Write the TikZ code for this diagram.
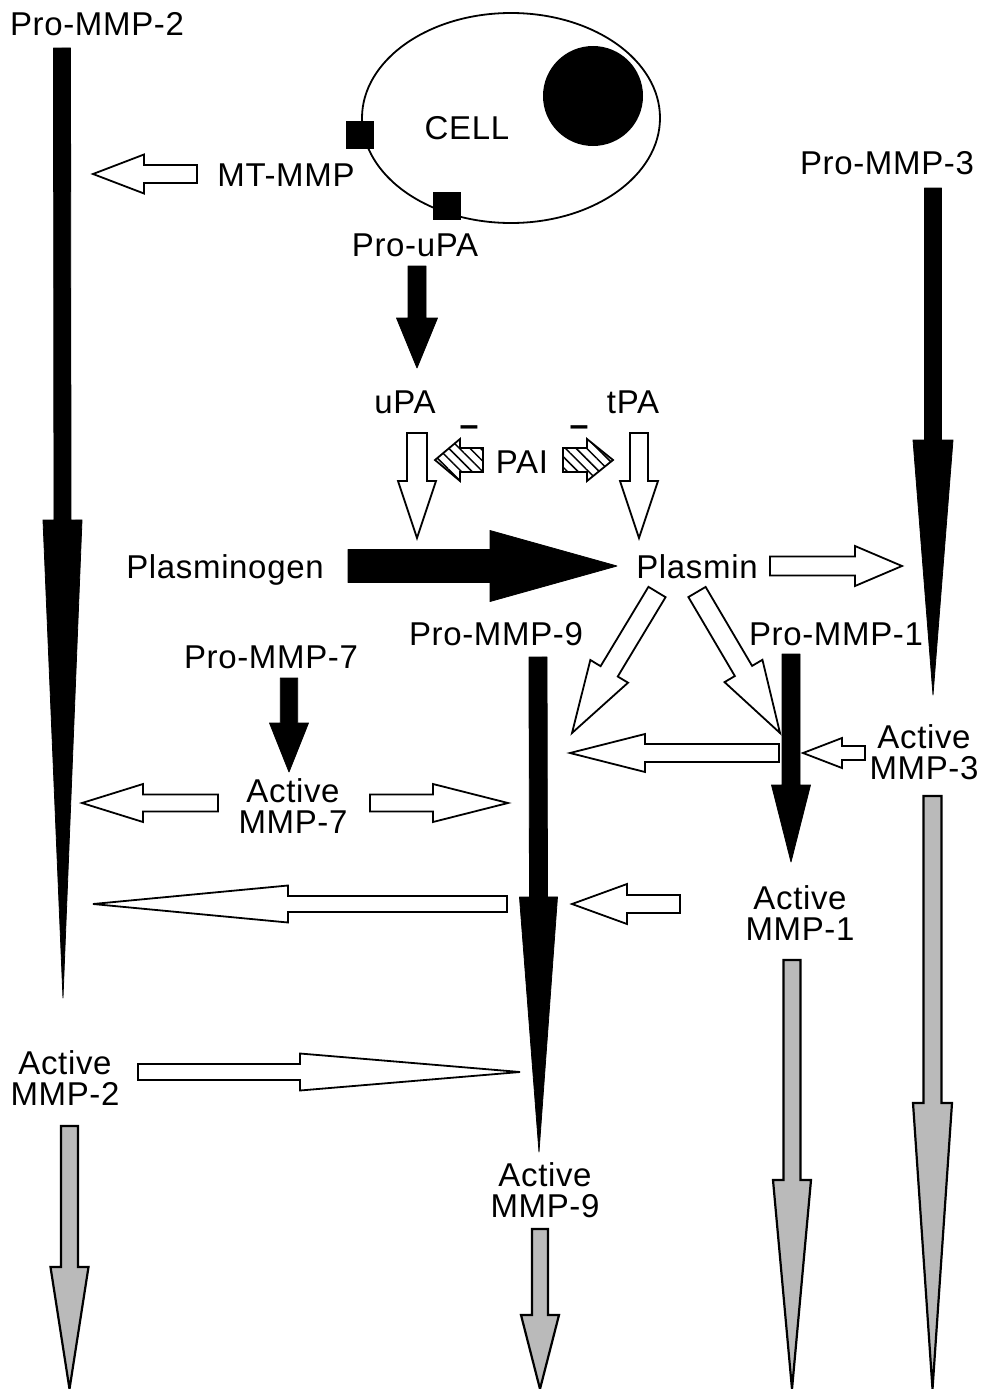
\documentclass[tikz,border=0pt]{standalone}
\usepackage{fontspec}
\setmainfont{Liberation Sans}[LetterSpace=2]
\usetikzlibrary{patterns.meta,calc}
% block arrow: #1 style, #2 tail coordinate, #3 tip coordinate, #4 shaft half width, #5 head half width, #6 head length
\newcommand\blockarrow[6]{%
  \pgfpointdiff{\pgfpointanchor{#2}{center}}{\pgfpointanchor{#3}{center}}%
  \pgfgetlastxy\bax\bay
  \pgfmathsetmacro\baang{atan2(\bay,\bax)}%
  \pgfmathsetmacro\balen{veclen(\bax,\bay)}%
  \path[#1,shift={(#2)},rotate=\baang] (0,#4) -- ({\balen-#6},#4) -- ({\balen-#6},#5) -- (\balen,0)
     -- ({\balen-#6},-#5) -- ({\balen-#6},-#4) -- (0,-#4) -- cycle;
}
\newcommand\lblfont{\fontsize{33}{31}\selectfont}
\begin{document}
\begin{tikzpicture}[x=1pt,y=-1pt,
  lbl/.style={inner sep=0pt,font=\lblfont,text height=23.5pt,text depth=0pt},
  lbltwo/.style={inner sep=0pt,font=\lblfont,align=center},
  minus/.style={inner sep=0pt,font=\fontsize{34}{34}\selectfont\bfseries},
  whitearr/.style={draw=black,fill=white,line width=1.8pt,line join=miter},
  blackarr/.style={draw=black,fill=black,line width=0.8pt,line join=round},
  grayarr/.style={draw=black,fill=black!27,line width=2.2pt,line join=miter},
  hatcharr/.style={draw=black,line width=1.8pt,line join=miter,
     pattern={Lines[angle=-45,distance=7.5pt,line width=1.5pt]}},
  membrane/.style={draw=black,fill=black,minimum size=27pt,inner sep=0pt}]
\useasboundingbox (0,0) rectangle (982,1389);

% ---- cell ----
\draw[line width=1.8pt] (511,118) ellipse [x radius=149, y radius=105];
\fill (593,96) circle [radius=50];
\node[membrane] (mtsq) at (360,135) {};
\node[membrane] (upasq) at (447,206) {};

% ---- labels ----
\node[lbl] (pro2) at (97,24) {Pro-MMP-2};
\node[lbl] (cell) at (467,128) {CELL};
\node[lbl] (mtmmp) at (286,175) {MT-MMP};
\node[lbl] (prouPA) at (415,245) {Pro-uPA};
\node[lbl] (pro3) at (887,163) {Pro-MMP-3};
\node[lbl] (uPA) at (405,402) {uPA};
\node[lbl] (tPA) at (633,402) {tPA};
\node[lbl] (PAI) at (522,462) {PAI};
\node[minus] (minA) at (469,431) {–};
\node[minus] (minB) at (579,431) {–};
\node[lbl] (plg) at (225,567) {Plasminogen};
\node[lbl] (plasmin) at (697,567) {Plasmin};
\node[lbl] (pro9) at (496,634) {Pro-MMP-9};
\node[lbl] (pro1) at (836,634) {Pro-MMP-1};
\node[lbl] (pro7) at (271,657) {Pro-MMP-7};
\node[lbltwo] (act7) at (293,806) {Active\\MMP-7};
\node[lbltwo] (act3) at (924,752) {Active\\MMP-3};
\node[lbltwo] (act1) at (800,913) {Active\\MMP-1};
\node[lbltwo] (act2) at (65,1078) {Active\\MMP-2};
\node[lbltwo] (act9) at (545,1190) {Active\\MMP-9};

% ---- arrow end points ----
\coordinate (mtT) at (197,174);   \coordinate (mtH) at (93,174);
\coordinate (puT) at (417,266);   \coordinate (puH) at (417,368);
\coordinate (uT) at (417,433);    \coordinate (uH) at (417,538);
\coordinate (tT) at (639,433);    \coordinate (tH) at (639,538);
\coordinate (paiLT) at (483,460); \coordinate (paiLH) at (435,460);
\coordinate (paiRT) at (563,460); \coordinate (paiRH) at (613,460);
\coordinate (plgT) at (348,566);  \coordinate (plgH) at (617,566);
\coordinate (plmT) at (770,566);  \coordinate (plmH) at (902,566);
\coordinate (dlT) at (657,592);   \coordinate (dlH) at (572,733);
\coordinate (drT) at (697,592);   \coordinate (drH) at (780,733);
\coordinate (hzT) at (779,753);   \coordinate (hzH) at (570,753);
\coordinate (a3T) at (865,753);   \coordinate (a3H) at (803,753);
\coordinate (p2T) at (62,48);     \coordinate (p2H) at (63,998);
\coordinate (p3T) at (933,188);   \coordinate (p3H) at (933,695);
\coordinate (p9T) at (538,657);   \coordinate (p9H) at (539,1152);
\coordinate (p1T) at (791,654);   \coordinate (p1H) at (791,862);
\coordinate (p7T) at (289,678);   \coordinate (p7H) at (289,772);
\coordinate (a7LT) at (218,803);  \coordinate (a7LH) at (82,803);
\coordinate (a7RT) at (370,803);  \coordinate (a7RH) at (508,803);
\coordinate (lgT) at (507,904);   \coordinate (lgH) at (93,904);
\coordinate (a1T) at (680,904);   \coordinate (a1H) at (572,904);
\coordinate (a2T) at (138,1072);  \coordinate (a2H) at (520,1072);
\coordinate (g2T) at (69.5,1126); \coordinate (g2H) at (69.5,1389);
\coordinate (g9T) at (540,1229);  \coordinate (g9H) at (540,1389);
\coordinate (g1T) at (792,960);   \coordinate (g1H) at (792,1389);
\coordinate (g3T) at (932.5,796); \coordinate (g3H) at (932.5,1389);

% ---- black arrows ----
\blockarrow{blackarr}{p2T}{p2H}{8.5}{19.5}{478}
\blockarrow{blackarr}{p3T}{p3H}{8.5}{20}{255}
\blockarrow{blackarr}{p9T}{p9H}{9}{19}{255}
\blockarrow{blackarr}{p1T}{p1H}{9}{19.5}{77}
\blockarrow{blackarr}{p7T}{p7H}{8.7}{19.5}{49}
\blockarrow{blackarr}{puT}{puH}{9}{20.5}{50}
\blockarrow{blackarr}{plgT}{plgH}{16.5}{35.5}{127}

% ---- white arrows ----
\blockarrow{whitearr}{mtT}{mtH}{9}{19.5}{51}
\blockarrow{whitearr}{uT}{uH}{10}{19}{57}
\blockarrow{whitearr}{tT}{tH}{9}{19}{57}
\blockarrow{whitearr}{plmT}{plmH}{9.5}{20}{47}
\blockarrow{whitearr}{dlT}{dlH}{10}{22}{72}
\blockarrow{whitearr}{drT}{drH}{10}{22}{72}
\blockarrow{whitearr}{hzT}{hzH}{9}{19}{75}
\blockarrow{whitearr}{a3T}{a3H}{7}{15}{39}
\blockarrow{whitearr}{a7LT}{a7LH}{8.5}{19}{61}
\blockarrow{whitearr}{a7RT}{a7RH}{8.5}{19}{75}
\blockarrow{whitearr}{lgT}{lgH}{8}{18.5}{195}
\blockarrow{whitearr}{a1T}{a1H}{9}{20}{55}
\blockarrow{whitearr}{a2T}{a2H}{8}{18.5}{220}

% ---- hatched PAI arrows ----
\blockarrow{hatcharr}{paiLT}{paiLH}{12}{21}{25}
\blockarrow{hatcharr}{paiRT}{paiRH}{12}{21}{26}

% ---- grey arrows ----
\blockarrow{grayarr}{g2T}{g2H}{8.5}{19}{122}
\blockarrow{grayarr}{g9T}{g9H}{8}{19}{74}
\blockarrow{grayarr}{g1T}{g1H}{8.5}{19}{209}
\blockarrow{grayarr}{g3T}{g3H}{9}{19.5}{286}
\end{tikzpicture}
\end{document}
